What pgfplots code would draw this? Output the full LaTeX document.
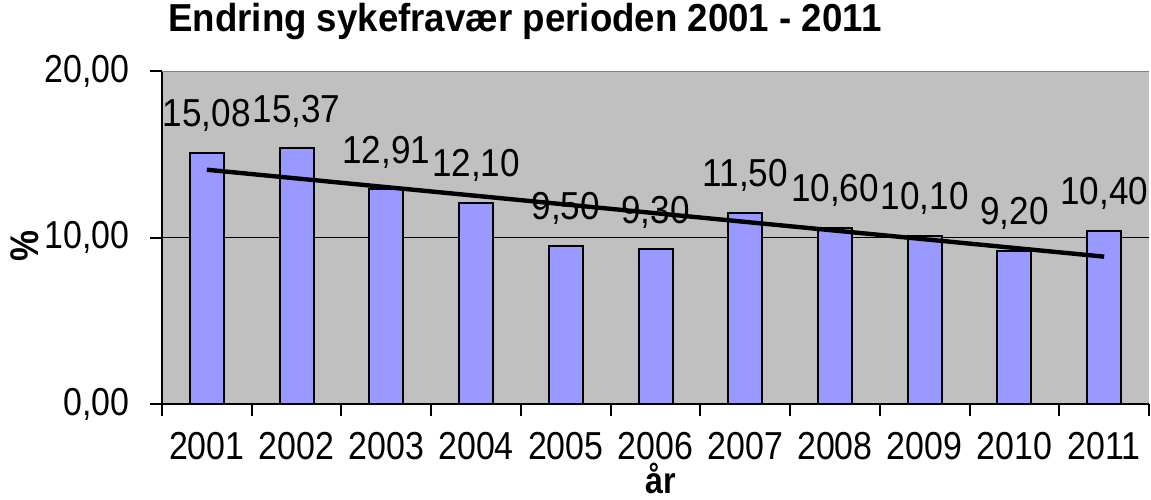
\documentclass[border=0pt]{standalone}
\usepackage{fontspec}
\usepackage{pgfplots}
\pgfplotsset{compat=1.18}
\newfontfamily\lab{Liberation Sans}[FakeStretch=0.87]
\newfontfamily\dlab{Liberation Sans}[FakeStretch=0.9]
\newfontfamily\ttl{Liberation Sans}[FakeStretch=0.94]
\definecolor{barblue}{HTML}{9999FF}
\definecolor{plotgray}{HTML}{C0C0C0}
\definecolor{bordergray}{HTML}{808080}

\begin{document}
\begin{tikzpicture}
\useasboundingbox (-81pt,-47.5pt) rectangle (494.5pt,202pt);
\pgfkeys{/pgf/number format/.cd, fixed, fixed zerofill, precision=2, use comma, 1000 sep={}, assume math mode=true}
\begin{axis}[
    scale only axis, width=493.5pt, height=166.5pt,
    xmin=0.5, xmax=11.5, ymin=0, ymax=20,
    axis x line*=bottom, axis y line*=left,
    axis line style={black, line width=1pt},
    axis background/.style={fill=plotgray},
    xtick={1,2,3,4,5,6,7,8,9,10,11},
    xticklabels={2001,2002,2003,2004,2005,2006,2007,2008,2009,2010,2011},
    major x tick style={draw=none},
    minor xtick={0.5,1.5,...,11.5},
    minor x tick style={black, line width=1pt},
    minor tick length=6pt,
    ytick={0,10,20},
    major y tick style={black, line width=1pt},
    major tick length=6pt,
    tick align=outside,
    ymajorgrids, grid style={black, line width=0.5pt},
    tick label style={font=\lab\fontsize{19.5}{20}\selectfont},
    xticklabel style={anchor=base, inner sep=0pt, yshift=-21.5pt},
    yticklabel style={anchor=east, inner sep=0pt, xshift=-10pt},
    title={Endring sykefravær perioden 2001 - 2011},
    title style={at={(axis description cs:0.006,1.0832)}, anchor=base west, inner sep=0pt,
        font=\ttl\bfseries\fontsize{19.5}{20}\selectfont},
    ylabel={\%},
    ylabel style={at={(axis description cs:-0.1388,0.4745)}, anchor=center,
        font=\lab\bfseries\fontsize{20}{20}\selectfont},
    xlabel={år},
    xlabel style={at={(axis description cs:0.5056,-0.268)}, anchor=base, inner sep=0pt,
        font=\lab\bfseries\fontsize{18.5}{19}\selectfont},
]
\addplot[ybar, bar width=17pt, fill=barblue, draw=black, line width=1pt,
    nodes near coords, point meta=y,
    nodes near coords style={anchor=base, inner sep=0pt, yshift=13pt,
        font=\dlab\fontsize{19.5}{20}\selectfont}]
coordinates {(1,15.08) (2,15.37) (3,12.91) (4,12.10) (5,9.50) (6,9.30)
             (7,11.50) (8,10.60) (9,10.10) (10,9.20) (11,10.40)};
% lineær trendlinje
\addplot[black, line width=2.2pt, sharp plot, mark=none]
coordinates {(1,14.07) (11,8.85)};
\draw[bordergray, line width=1pt] (axis cs:0.5,20) -- (axis cs:11.5,20);
\end{axis}
\end{tikzpicture}
\end{document}
